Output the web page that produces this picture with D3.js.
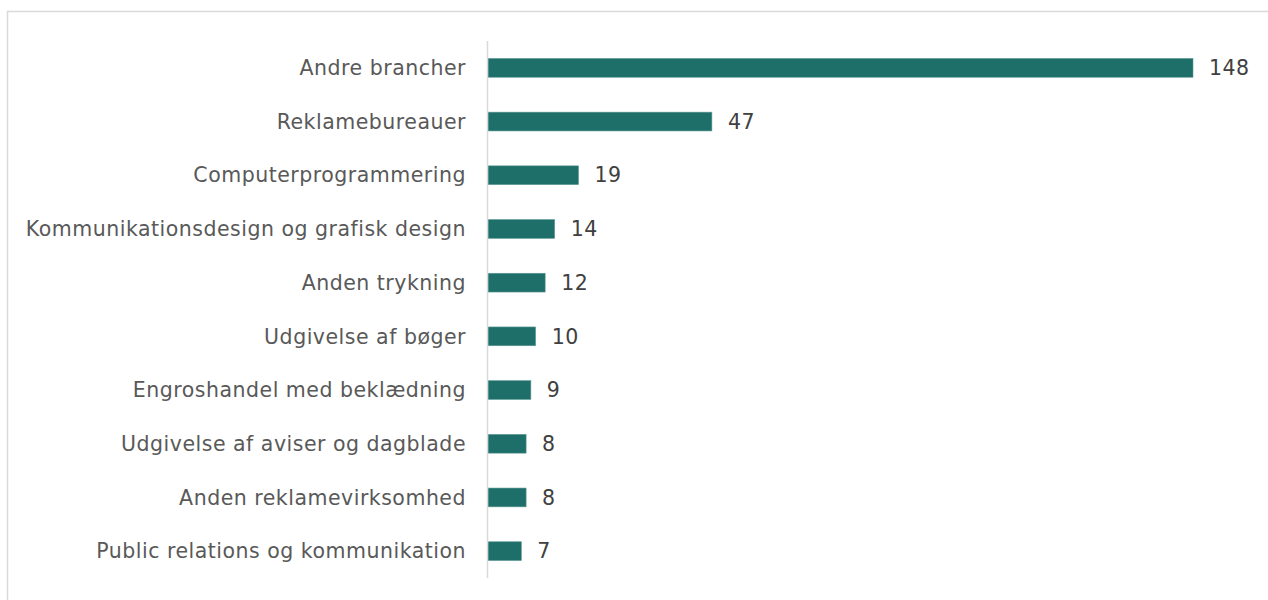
<!DOCTYPE html>
<html><head><meta charset="utf-8">
<script src="https://cdn.jsdelivr.net/npm/d3@7"></script>
<style>body{margin:0;background:#fff}svg{display:block}</style>
</head><body>
<svg id="c" width="1268" height="600"></svg>
<script>
const categories = ["Andre brancher","Reklamebureauer","Computerprogrammering","Kommunikationsdesign og grafisk design","Anden trykning","Udgivelse af bøger","Engroshandel med beklædning","Udgivelse af aviser og dagblade","Anden reklamevirksomhed","Public relations og kommunikation"];
const values = [148,47,19,14,12,10,9,8,8,7];

const svg = d3.select("#c");
svg.append("rect").attr("x",7.5).attr("y",11.5).attr("width",1300).attr("height",700)
  .attr("fill","#fff").attr("stroke","#d9d9d9").attr("stroke-width",1.5);

const x0 = 488;
const x = d3.scaleLinear().domain([0,148]).range([x0,1193]);
const y = d3.scaleBand().domain(categories).range([41,578]).paddingInner(0.65).paddingOuter(0.325);

svg.selectAll("rect.bar").data(values).enter().append("rect").attr("class","bar")
  .attr("x",x(0)).attr("y",(d,i)=>y(categories[i]))
  .attr("width",d=>x(d)-x(0)).attr("height",y.bandwidth())
  .attr("fill","#1e6e69").attr("stroke","#5f9c97").attr("stroke-width",0.6);

svg.append("line").attr("x1",x0-0.5).attr("x2",x0-0.5).attr("y1",41).attr("y2",578)
  .attr("stroke","#d9d9d9").attr("stroke-width",1.5);

svg.selectAll("text.cat").data(categories).enter().append("text").attr("class","cat")
  .attr("x",466).attr("y",d=>y(d)+y.bandwidth()/2).attr("dy","0.35em")
  .attr("text-anchor","end").attr("font-family","DejaVu Sans").attr("font-size",20.5)
  .attr("letter-spacing",0.5)
  .attr("fill","#595959").text(d=>d);

svg.selectAll("text.val").data(values).enter().append("text").attr("class","val")
  .attr("x",d=>x(d)+16).attr("y",(d,i)=>y(categories[i])+y.bandwidth()/2).attr("dy","0.35em")
  .attr("font-family","DejaVu Sans").attr("font-size",20.5).attr("letter-spacing",0.5)
  .attr("fill","#404040").text(d=>d);
</script>
</body></html>
